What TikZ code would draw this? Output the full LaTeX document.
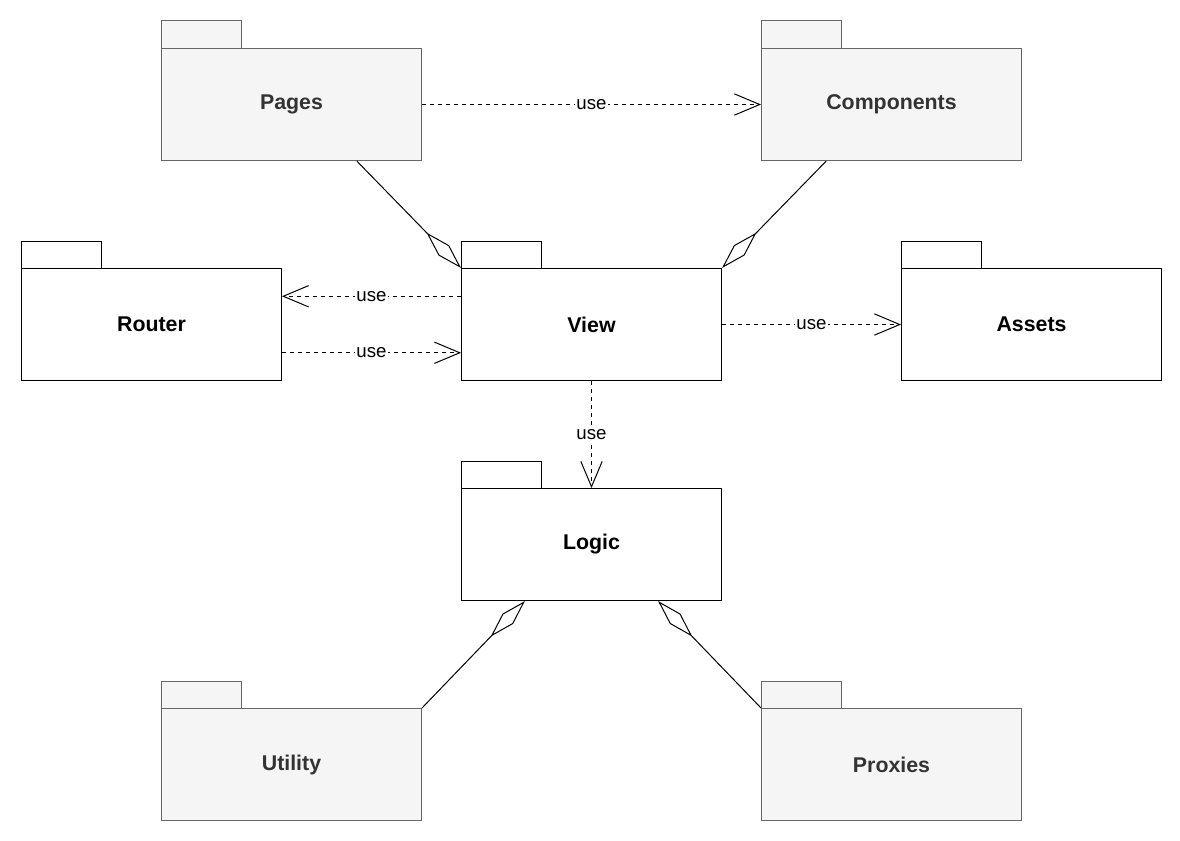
\documentclass[tikz,border=0pt]{standalone}
\usepackage{fontspec}
\setmainfont{Liberation Sans}
\usetikzlibrary{arrows.meta,calc}
\definecolor{gfill}{HTML}{F5F5F5}
\definecolor{gline}{HTML}{666666}
\definecolor{gtext}{HTML}{333333}
\begin{document}
\begin{tikzpicture}[x=0.75pt,y=-0.75pt,
  pkg/.style={draw=black,fill=white,text=black,minimum width=195pt,minimum height=84pt,inner sep=0pt,font=\fontsize{16}{18}\selectfont\bfseries,line width=0.75pt},
  gpkg/.style={pkg,draw=gline,fill=gfill,text=gtext},
  use/.style={dashed,line width=0.75pt,-{Straight Barb[length=19pt,width=16pt,line width=0.75pt]}},
  agg/.style={line width=0.75pt,-{Diamond[open,length=37pt,width=11pt,line width=0.75pt,fill=white]}},
  lbl/.style={fill=white,inner sep=1pt,font=\fontsize{14}{16}\selectfont}]
\useasboundingbox (0,0) rectangle (1180,840);
\newcommand{\tabbox}[4]{\draw[#4,line width=0.75pt] (#1,#2) rectangle (#1+80,#3);}
% packages
\tabbox{161}{20}{48}{draw=gline,fill=gfill}
\node[gpkg,anchor=north west] (pages) at (161,48) {Pages};
\tabbox{761}{20}{48}{draw=gline,fill=gfill}
\node[gpkg,anchor=north west] (comp) at (761,48) {Components};
\tabbox{21}{241}{268}{draw=black,fill=white}
\node[pkg,anchor=north west] (router) at (21,268) {Router};
\tabbox{461}{241}{268}{draw=black,fill=white}
\node[pkg,anchor=north west] (view) at (461,268) {View};
\tabbox{901}{241}{268}{draw=black,fill=white}
\node[pkg,anchor=north west] (assets) at (901,268) {Assets};
\tabbox{461}{461}{488}{draw=black,fill=white}
\node[pkg,anchor=north west] (logic) at (461,488) {Logic};
\tabbox{161}{681}{708}{draw=gline,fill=gfill}
\node[gpkg,anchor=north west] (util) at (161,708) {Utility};
\tabbox{761}{681}{708}{draw=gline,fill=gfill}
\node[gpkg,anchor=north west] (prox) at (761,708) {Proxies};
% connectors
\draw[use] ($(pages.north east)!0.5!(pages.south east)$) -- node[lbl]{use} ($(comp.north west)!0.5!(comp.south west)$);
\draw[agg] ($(pages.south west)!0.75!(pages.south east)$) -- (view.north west);
\draw[agg] ($(comp.south west)!0.25!(comp.south east)$) -- (view.north east);
\draw[use] ($(view.north west)!0.25!(view.south west)$) -- node[lbl]{use} ($(router.north east)!0.25!(router.south east)$);
\draw[use] ($(router.north east)!0.75!(router.south east)$) -- node[lbl]{use} ($(view.north west)!0.75!(view.south west)$);
\draw[use] (view.east) -- node[lbl]{use} (assets.west);
\draw[use] (view.south) -- node[lbl]{use} (logic.north);
\draw[agg] (util.north east) -- ($(logic.south west)!0.245!(logic.south east)$);
\draw[agg] (prox.north west) -- ($(logic.south west)!0.755!(logic.south east)$);
\end{tikzpicture}
\end{document}
